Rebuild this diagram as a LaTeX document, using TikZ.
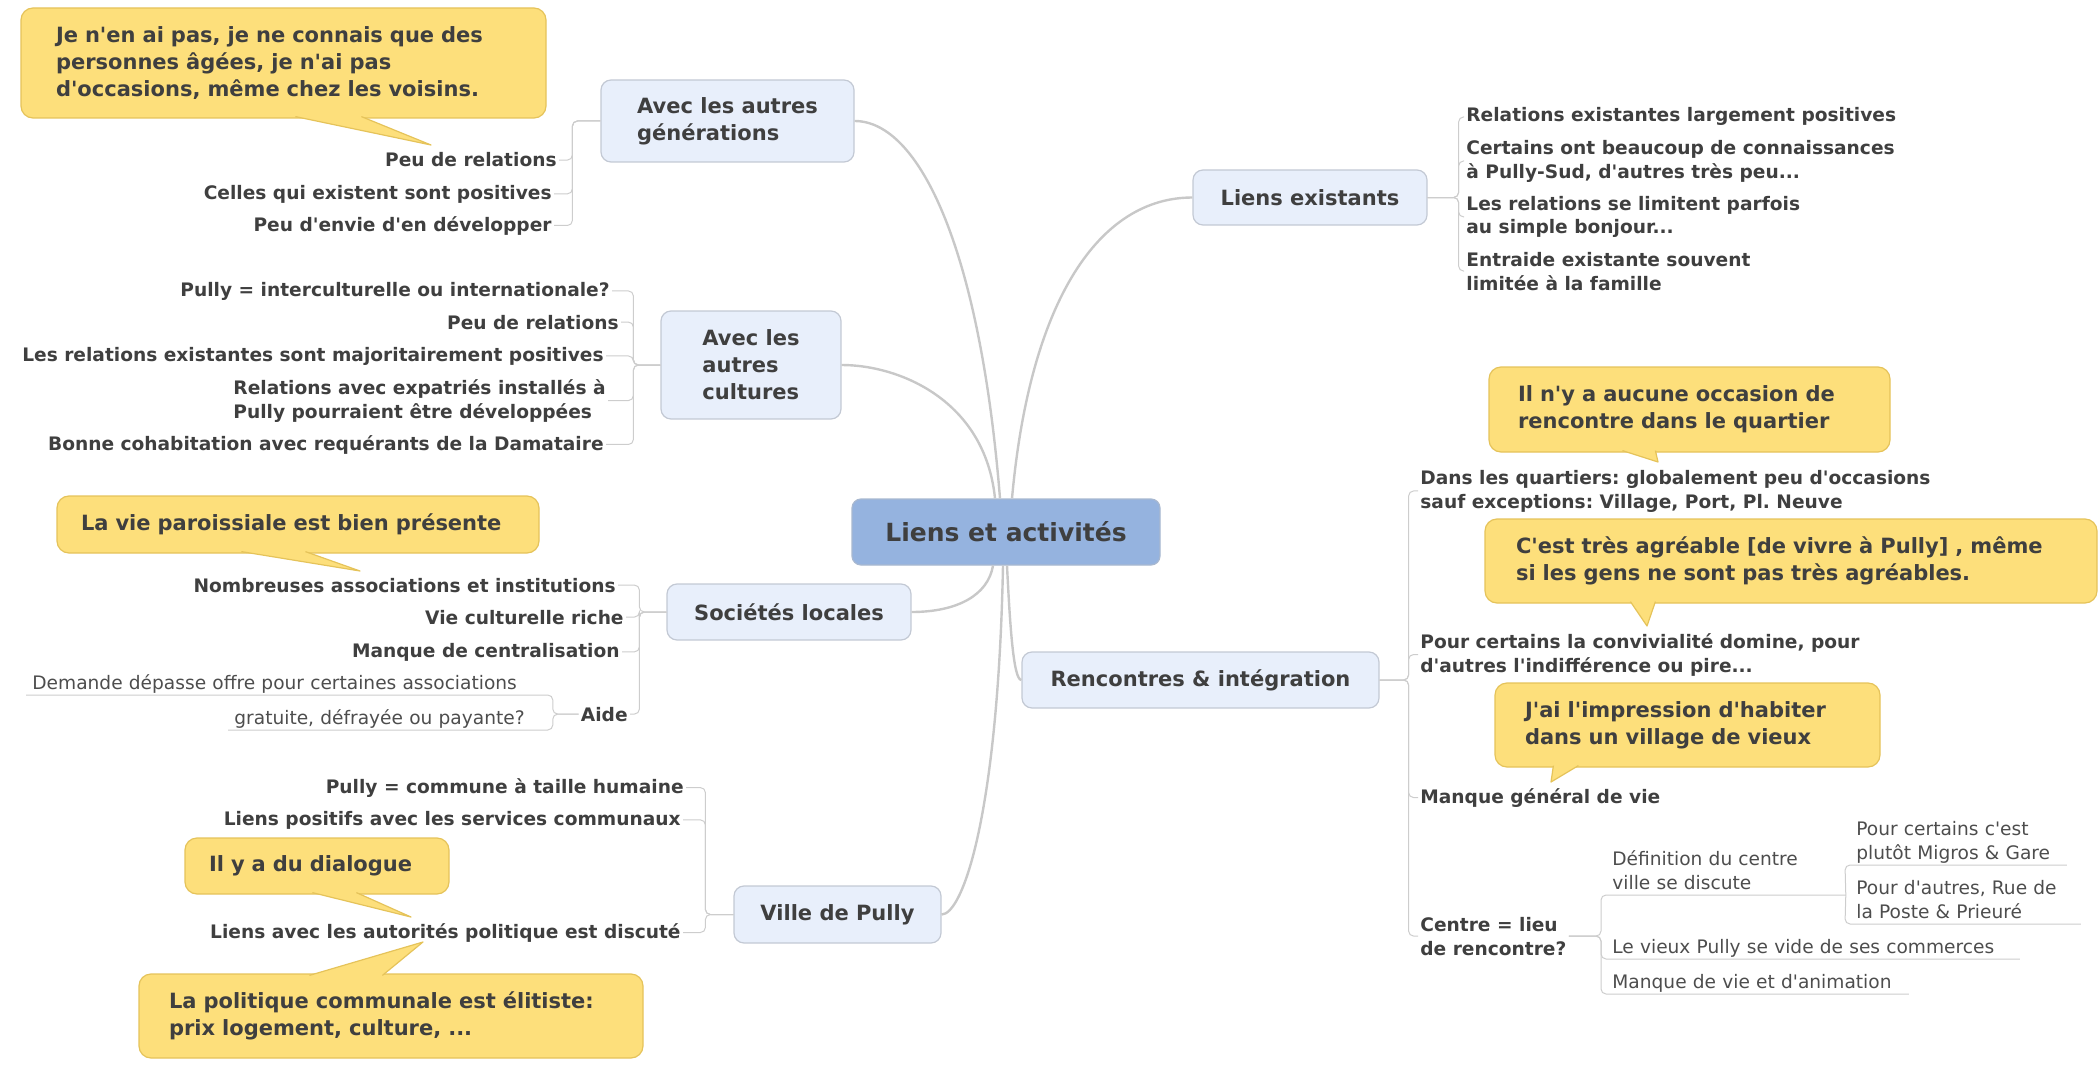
\documentclass[tikz,border=0pt]{standalone}
\usepackage{fontspec}
\setmainfont{DejaVu Sans}[Ligatures=TeXOff]
\usetikzlibrary{calc}
\frenchspacing

\definecolor{rootfill}{HTML}{95B3DF}
\definecolor{rootline}{HTML}{A8B8D0}
\definecolor{topicfill}{HTML}{E8EFFB}
\definecolor{topicline}{HTML}{C3C9D4}
\definecolor{callfill}{HTML}{FDDF7B}
\definecolor{callline}{HTML}{E5C35A}
\definecolor{txt}{HTML}{3F3F3F}
\definecolor{leaftxt}{HTML}{4D4D4D}
\definecolor{trunkgray}{HTML}{C8C8C8}
\definecolor{brkgray}{HTML}{CDCDCD}

\newcommand\roottxt{\bfseries\fontsize{12.5}{15}\selectfont}
\newcommand\toptxt{\bfseries\fontsize{10.5}{13.5}\selectfont}
\newcommand\subtxt{\bfseries\fontsize{9.3}{12}\selectfont}
\newcommand\leaftxt{\fontsize{9.3}{12}\selectfont}
\newcommand\lstrut{\rule[-2.5pt]{0pt}{0pt}}

\begin{document}
\begin{tikzpicture}[x=0.5pt,y=-0.5pt,
    root/.style={fill=rootfill, draw=rootline, line width=0.6pt, rounded corners=4.5pt, font=\roottxt, text=txt, minimum width=154pt, minimum height=33pt},
    topic/.style={fill=topicfill, draw=topicline, line width=0.6pt, rounded corners=5pt, font=\toptxt, text=txt, align=left},
    subnode/.style={font=\subtxt, text=txt, inner sep=1pt, align=left},
    leaf/.style={font=\leaftxt, text=leaftxt, inner ysep=0pt, align=left},
    callout/.style={fill=callfill, draw=callline, line width=0.6pt, rounded corners=6pt, font=\toptxt, text=txt, align=left, inner ysep=0pt},
    tail/.style={fill=callfill, draw=callline, line width=0.6pt, line join=round},
    trunk/.style={draw=trunkgray, line width=1.2pt},
    brk/.style={draw=brkgray, line width=0.5pt, rounded corners=2.5pt}]

\useasboundingbox (0,0) rectangle (2100,1065);

\node[root] (root) at (1006,532) {Liens et activités};

\node[topic, minimum width=126.5pt, minimum height=41pt] (gen) at (727.5,121) {Avec les autres\\générations};
\node[topic, minimum width=90pt, minimum height=54pt] (cult) at (751,365) {Avec les\\autres\\cultures};
\node[topic, minimum width=122pt, minimum height=28pt] (soc) at (789,612) {Sociétés locales};
\node[topic, minimum width=103.5pt, minimum height=28.5pt] (ville) at (837.5,914.5) {Ville de Pully};
\node[topic, minimum width=117pt, minimum height=27.5pt] (exist) at (1310,197.5) {Liens existants};
\node[topic, minimum width=178.5pt, minimum height=28pt] (renc) at (1200.5,680) {Rencontres \& intégration};

\node[subnode, anchor=base east] (g1) at (559,167) {Peu de relations};
\node[subnode, anchor=base east] (g2) at (554,199) {Celles qui existent sont positives};
\node[subnode, anchor=base east] (g3) at (554,231) {Peu d'envie d'en développer};

\node[subnode, anchor=base east] (k1) at (612,296) {Pully = interculturelle ou internationale?};
\node[subnode, anchor=base east] (k2) at (621,329) {Peu de relations};
\node[subnode, anchor=base east] (k3) at (606,361) {Les relations existantes sont majoritairement positives};
\node[subnode, anchor=base east] (k4) at (608,418) {Relations avec expatriés installés à\\Pully pourraient être développées};
\node[subnode, anchor=base east] (k5) at (606,450) {Bonne cohabitation avec requérants de la Damataire};

\node[subnode, anchor=base east] (s1) at (618,592) {Nombreuses associations et institutions};
\node[subnode, anchor=base east] (s2) at (626,624) {Vie culturelle riche};
\node[subnode, anchor=base east] (s3) at (622,657) {Manque de centralisation};
\node[subnode, anchor=base east] (s4) at (630,721) {Aide};

\node[subnode, anchor=base east] (v1) at (686,793) {Pully = commune à taille humaine};
\node[subnode, anchor=base east] (v2) at (683,825) {Liens positifs avec les services communaux};
\node[subnode, anchor=base east] (v3) at (683,938) {Liens avec les autorités politique est discuté};

\node[subnode, anchor=base west] (e1) at (1464,122) {Relations existantes largement positives};
\node[subnode, anchor=base west] (e2) at (1464,178) {Certains ont beaucoup de connaissances\\à Pully-Sud, d'autres très peu...};
\node[subnode, anchor=base west] (e3) at (1464,234) {Les relations se limitent parfois\\au simple bonjour...};
\node[subnode, anchor=base west] (e4) at (1464,290) {Entraide existante souvent\\limitée à la famille};

\node[subnode, anchor=base west] (r1) at (1418,508) {Dans les quartiers: globalement peu d'occasions\\sauf exceptions: Village, Port, Pl. Neuve};
\node[subnode, anchor=base west] (r2) at (1418,672) {Pour certains la convivialité domine, pour\\d'autres l'indifférence ou pire...};
\node[subnode, anchor=base west] (r3) at (1418,803) {Manque général de vie};
\node[subnode, anchor=base west] (r4) at (1418,955) {Centre = lieu\\de rencontre?};

\node[leaf, anchor=south west, inner xsep=3pt, text width=257pt] (a1) at (26,695) {\mbox{Demande dépasse offre pour certaines associations}\lstrut};
\node[leaf, anchor=south west, inner xsep=3pt, text width=156pt] (a2) at (228,730) {\mbox{gratuite, défrayée ou payante?}\lstrut};
\node[leaf, anchor=south west, inner xsep=5.5pt, text width=111pt] (d1) at (1601,895) {\mbox{Définition du centre}\\\mbox{ville se discute}\lstrut};
\node[leaf, anchor=south west, inner xsep=5.5pt, text width=99.5pt] (d1a) at (1845,865) {\mbox{Pour certains c'est}\\\mbox{plutôt Migros \& Gare}\lstrut};
\node[leaf, anchor=south west, inner xsep=5.5pt, text width=106.5pt] (d1b) at (1845,924) {\mbox{Pour d'autres, Rue de}\\\mbox{la Poste \& Prieuré}\lstrut};
\node[leaf, anchor=south west, inner xsep=5.5pt, text width=198pt] (d2) at (1601,959) {\mbox{Le vieux Pully se vide de ses commerces}\lstrut};
\node[leaf, anchor=south west, inner xsep=5.5pt, text width=142.5pt] (d3) at (1601,994) {\mbox{Manque de vie et d'animation}\lstrut};

\draw[trunk] ([xshift=-3pt]root.north) .. controls +(-20,-249) and +(65,0) .. (gen.east);
\draw[trunk] ([xshift=-5.5pt]root.north) .. controls +(-10,-98) and +(58,0) .. (cult.east);
\draw[trunk] ([xshift=-6.5pt]root.south) .. controls +(-5,30) and +(45,0) .. (soc.east);
\draw[trunk] ([xshift=-1.5pt]root.south) .. controls +(-5,250) and +(21,0) .. (ville.east);
\draw[trunk] ([xshift=3pt]root.north) .. controls +(18,-199) and +(-93,0) .. (exist.west);
\draw[trunk] ([xshift=0.5pt]root.south) .. controls +(3,60) and +(-8,0) .. (renc.west);

\foreach \c in {g1,g2,g3} \draw[brk] (gen.west) -- ++(-28,0) |- (\c.east);
\foreach \c in {k1,k2,k3,k4,k5} \draw[brk] (cult.west) -- ++(-27,0) |- (\c.east);
\foreach \c in {s1,s2,s3,s4} \draw[brk] (soc.west) -- ++(-27,0) |- (\c.east);
\foreach \c in {v1,v2,v3} \draw[brk] (ville.west) -- ++(-28,0) |- (\c.east);
\foreach \c in {e1,e2,e3,e4} \draw[brk] (exist.east) -- ++(31,0) |- (\c.west);
\foreach \c in {r1,r2,r3,r4} \draw[brk] (renc.east) -- ++(29,0) |- (\c.west);
\foreach \c in {a1,a2} \draw[brk] (s4.west) -| (\c.south east) -- (\c.south west);
\foreach \c in {d1,d2,d3} \draw[brk] (r4.east) -| (\c.south west) -- (\c.south east);
\foreach \c in {d1a,d1b} \draw[brk] (d1.south east) -- (\c.south west) -- (\c.south east);

\node[callout, minimum height=55pt, inner xsep=17.5pt, text width=227.5pt] (c1) at (283.5,63) {Je n'en ai pas, je ne connais que des\\personnes âgées, je n'ai pas\\d'occasions, même chez les voisins.};
\node[callout, minimum height=28.5pt, inner xsep=12pt, text width=217pt] (c2) at (298,524.5) {La vie paroissiale est bien présente};
\node[callout, minimum height=28pt, inner xsep=12pt, text width=108pt] (c3) at (317,866) {Il y a du dialogue};
\node[callout, minimum height=42pt, inner xsep=15pt, text width=222pt] (c4) at (391,1016) {La politique communale est élitiste:\\prix logement, culture, ...};
\node[callout, minimum height=42.5pt, inner xsep=14.5pt, text width=171.5pt] (c5) at (1689.5,409.5) {Il n'y a aucune occasion de\\rencontre dans le quartier};
\node[callout, minimum height=42pt, inner xsep=15.5pt, text width=275pt] (c6) at (1791,561) {C'est très agréable [de vivre à Pully] , même\\si les gens ne sont pas très agréables.};
\node[callout, minimum height=42pt, inner xsep=15pt, text width=162.5pt] (c7) at (1687.5,725) {J'ai l'impression d'habiter\\dans un village de vieux};

\coordinate (t1) at (431,145);
\coordinate (t2) at (360,571);
\coordinate (t3) at (411,917);
\coordinate (t4) at (423,942);
\coordinate (t5) at (1658,462);
\coordinate (t6) at (1647,626);
\coordinate (t7) at (1551,782);

\path[tail] ($(c1.south west)+(275,-2)$) -- (t1) -- ($(c1.south west)+(341,-2)$);
\path[tail] ($(c2.south west)+(185,-2)$) -- (t2) -- ($(c2.south west)+(249,-2)$);
\path[tail] ($(c3.south west)+(128,-2)$) -- (t3) -- ($(c3.south west)+(172,-2)$);
\path[tail] ($(c4.north west)+(171,2)$) -- (t4) -- ($(c4.north west)+(244,2)$);
\path[tail] ($(c5.south west)+(134,-2)$) -- (t5) -- ($(c5.south west)+(167,-2)$);
\path[tail] ($(c6.south west)+(146,-2)$) -- (t6) -- ($(c6.south west)+(171,-2)$);
\path[tail] ($(c7.south west)+(59,-2)$) -- (t7) -- ($(c7.south west)+(84,-2)$);
\end{tikzpicture}
\end{document}
